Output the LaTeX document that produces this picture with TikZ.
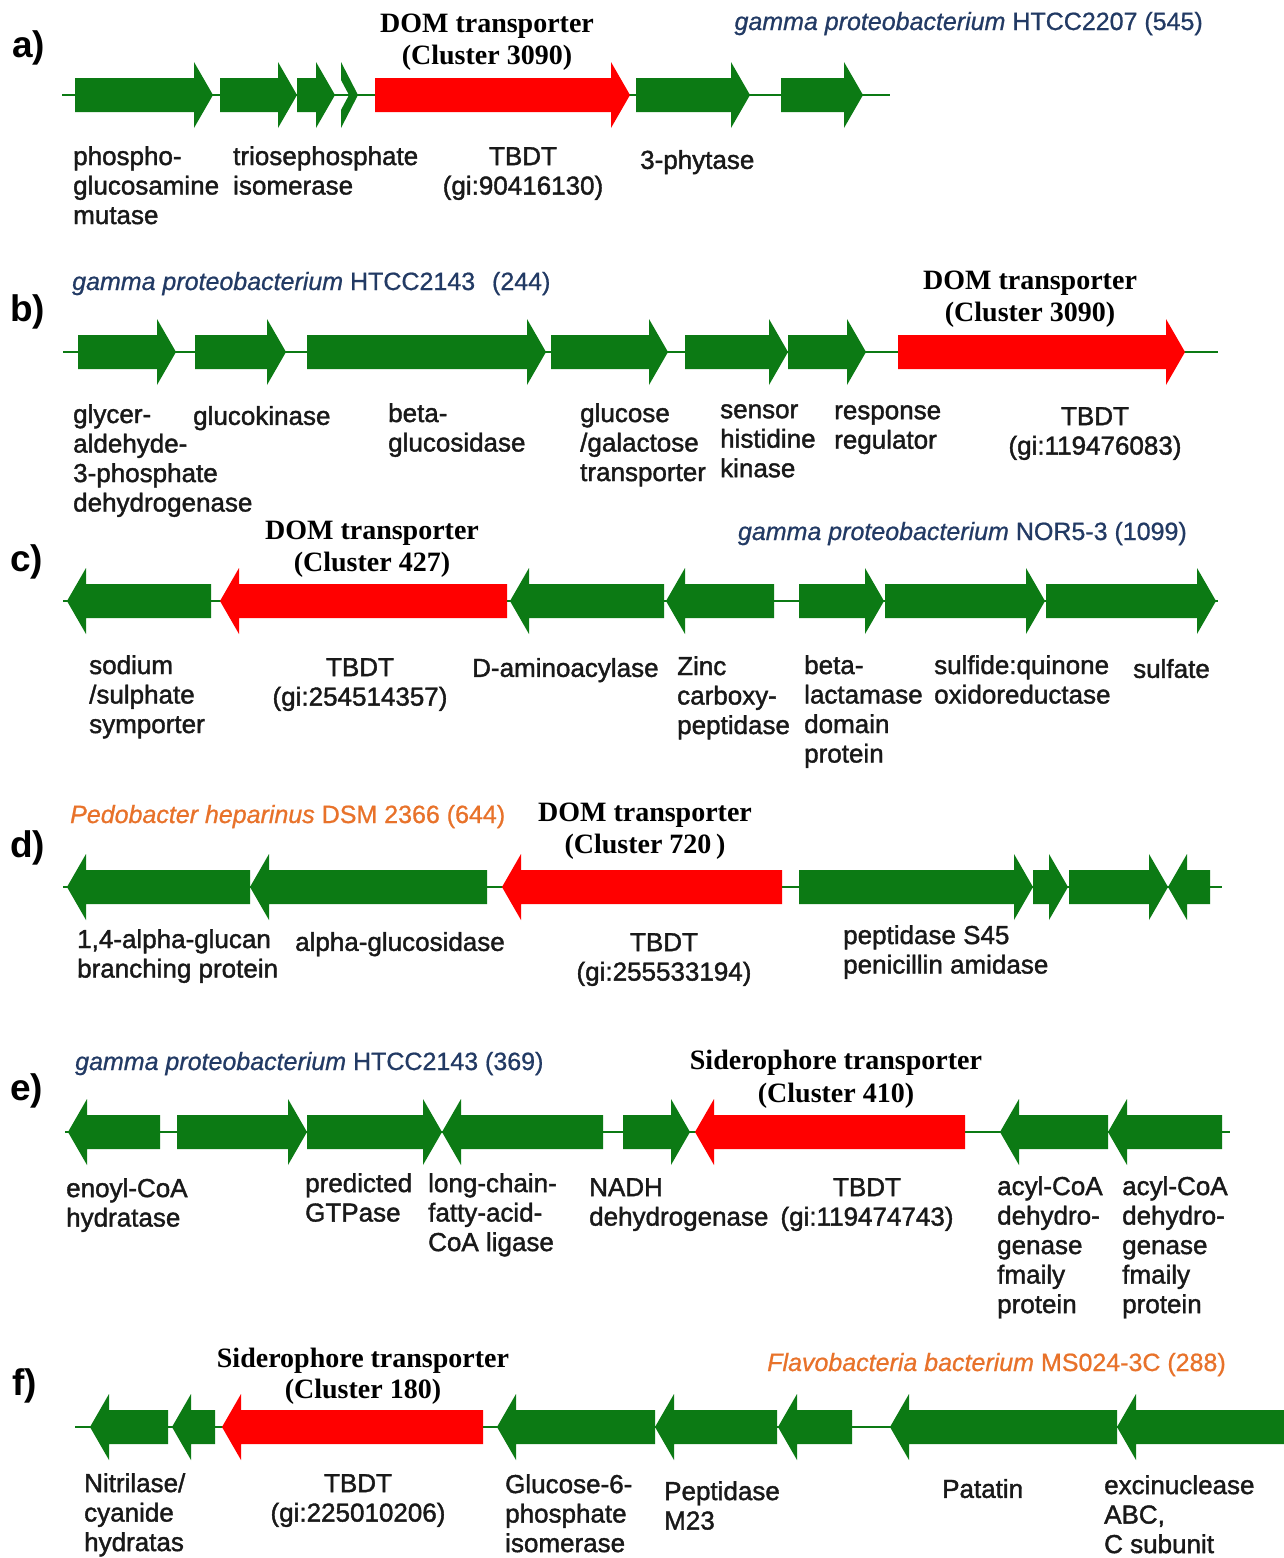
\documentclass[tikz,border=0pt]{standalone}
\usepackage{fontspec}
\setmainfont{Liberation Sans}
\newfontfamily\labf[FakeBold=1.5]{Liberation Sans}
\newfontfamily\spf[FakeBold=0.8]{Liberation Sans}
\newfontfamily\serifb{Liberation Serif}
\definecolor{gg}{RGB}{12,122,20}
\definecolor{rr}{RGB}{255,0,0}
\definecolor{labc}{RGB}{25,25,25}
\definecolor{spblue}{RGB}{34,58,100}
\definecolor{sporange}{RGB}{232,114,42}
\newcommand{\genef}[4]{%
 \fill[#4] ({#1},{#3-17}) -- ({#2-19},{#3-17}) -- ({#2-19},{#3-33}) -- ({#2},{#3}) -- ({#2-19},{#3+33}) -- ({#2-19},{#3+17}) -- ({#1},{#3+17}) -- cycle;}
\newcommand{\gener}[4]{%
 \fill[#4] ({#2},{#3-17}) -- ({#1+19},{#3-17}) -- ({#1+19},{#3-33}) -- ({#1},{#3}) -- ({#1+19},{#3+33}) -- ({#1+19},{#3+17}) -- ({#2},{#3+17}) -- cycle;}
\begin{document}
\begin{tikzpicture}[x=1pt,y=-1pt,
  lbl/.style={font=\labf\fontsize{26}{29.5}\selectfont, text=labc, inner sep=0pt, align=left, anchor=north west, execute at begin node=\strut},
  lblc/.style={lbl, align=center, anchor=north},
  ttl/.style={font=\serifb\bfseries\fontsize{28}{32}\selectfont, text=black, align=center, anchor=north, inner sep=0pt, execute at begin node=\strut},
  spb/.style={font=\spf\fontsize{25}{30}\selectfont, text=spblue, inner sep=0pt},
  spo/.style={font=\spf\fontsize{25}{30}\selectfont, text=sporange, inner sep=0pt},
  rowlab/.style={font=\bfseries\fontsize{37}{40}\selectfont, text=black, inner sep=0pt, anchor=base west},
  axis/.style={draw=gg, line width=2pt}]
\fill[white] (0,0) rectangle (1284,1558);
\useasboundingbox (0,0) rectangle (1284,1558);

% ---------------- a)
\node[rowlab] (la) at (12,57) {a)};
\draw[axis] (62,95) -- (890,95);
\genef{75}{213}{95}{gg}
\genef{220}{297}{95}{gg}
\genef{297}{335}{95}{gg}
\fill[gg] (341,62) -- (358,95) -- (341,128) -- (341,110) -- (349,95) -- (341,80) -- cycle;
\genef{375}{630}{95}{rr}
\genef{636}{750}{95}{gg}
\genef{781}{863}{95}{gg}
\node[ttl] (ta) at (487,14) {DOM transporter\\(Cluster 3090)};
\node[spb, anchor=base east] (sa) at (1203,30) {\textit{gamma proteobacterium} HTCC2207 (545)};
\node[lbl] (a1) at (73,146) {phospho-\\glucosamine\\mutase};
\node[lbl] (a2) at (233,146) {triosephosphate\\isomerase};
\node[lblc] (a3) at (523,147) {TBDT\\(gi:90416130)};
\node[lbl] (a4) at (640,148) {3-phytase};

% ---------------- b)
\node[rowlab] (lb) at (10,321) {b)};
\draw[axis] (63,352) -- (1218,352);
\genef{78}{176}{352}{gg}
\genef{195}{286}{352}{gg}
\genef{307}{546}{352}{gg}
\genef{551}{668}{352}{gg}
\genef{685}{788}{352}{gg}
\genef{788}{866}{352}{gg}
\genef{898}{1185}{352}{rr}
\node[ttl] (tb) at (1030,271) {DOM transporter\\(Cluster 3090)};
\node[spb, anchor=base west] (sb) at (72,290) {\textit{gamma proteobacterium} HTCC2143\hspace{0.4em} (244)};
\node[lbl] (b1) at (73,404) {glycer-\\aldehyde-\\3-phosphate\\dehydrogenase};
\node[lbl] (b2) at (193,404) {glucokinase};
\node[lbl] (b3) at (388,403) {beta-\\glucosidase};
\node[lbl] (b4) at (580,403) {glucose\\/galactose\\transporter};
\node[lbl] (b5) at (720,404) {sensor\\histidine\\kinase};
\node[lbl] (b6) at (834,405) {response\\regulator};
\node[lblc] (b7) at (1095,407) {TBDT\\(gi:119476083)};

% ---------------- c)
\node[rowlab] (lc) at (10,571) {c)};
\draw[axis] (63,601) -- (1218,601);
\gener{67}{211}{601}{gg}
\gener{220}{507}{601}{rr}
\gener{510}{664}{601}{gg}
\gener{666}{774}{601}{gg}
\genef{799}{884}{601}{gg}
\genef{885}{1045}{601}{gg}
\genef{1046}{1216}{601}{gg}
\node[ttl] (tc) at (372,521) {DOM transporter\\(Cluster 427)};
\node[spb, anchor=base east] (sc) at (1187,540) {\textit{gamma proteobacterium} NOR5-3 (1099)};
\node[lbl] (c1) at (89,655) {sodium\\/sulphate\\symporter};
\node[lblc] (c2) at (360,658) {TBDT\\(gi:254514357)};
\node[lbl] (c3) at (472,656) {D-aminoacylase};
\node[lbl] (c4) at (677,656) {Zinc\\carboxy-\\peptidase};
\node[lbl] (c5) at (804,655) {beta-\\lactamase\\domain\\protein};
\node[lbl] (c6) at (934,655) {sulfide:quinone\\oxidoreductase};
\node[lbl] (c7) at (1133,657) {sulfate};

% ---------------- d)
\node[rowlab] (ld) at (10,857) {d)};
\draw[axis] (63,887) -- (1222,887);
\gener{67}{250}{887}{gg}
\gener{250}{487}{887}{gg}
\gener{502}{782}{887}{rr}
\genef{799}{1033}{887}{gg}
\genef{1033}{1068}{887}{gg}
\genef{1069}{1168}{887}{gg}
\gener{1168}{1210}{887}{gg}
\node[ttl] (td) at (645,803) {DOM transporter\\(Cluster 720\,)};
\node[spo, anchor=base west] (sd) at (70,823) {\textit{Pedobacter heparinus} DSM 2366 (644)};
\node[lbl] (d1) at (77,929) {1,4-alpha-glucan\\branching protein};
\node[lbl] (d2) at (295,930) {alpha-glucosidase};
\node[lblc] (d3) at (664,933) {TBDT\\(gi:255533194)};
\node[lbl] (d4) at (843,925) {peptidase S45\\penicillin amidase};

% ---------------- e)
\node[rowlab] (le) at (10,1100) {e)};
\draw[axis] (65,1132) -- (1230,1132);
\gener{68}{160}{1132}{gg}
\genef{177}{307}{1132}{gg}
\genef{307}{442}{1132}{gg}
\gener{442}{603}{1132}{gg}
\genef{623}{690}{1132}{gg}
\gener{695}{965}{1132}{rr}
\gener{1000}{1108}{1132}{gg}
\gener{1108}{1222}{1132}{gg}
\node[ttl, font=\serifb\bfseries\fontsize{28}{33}\selectfont] (te) at (836,1050) {Siderophore transporter\\(Cluster 410)};
\node[spb, anchor=base west] (se) at (75,1070) {\textit{gamma proteobacterium} HTCC2143 (369)};
\node[lbl] (e1) at (66,1178) {enoyl-CoA\\hydratase};
\node[lbl] (e2) at (305,1173) {predicted\\GTPase};
\node[lbl] (e3) at (428,1173) {long-chain-\\fatty-acid-\\CoA ligase};
\node[lbl] (e4) at (589,1178) {NADH\\dehydrogenase};
\node[lblc] (e5) at (867,1178) {TBDT\\(gi:119474743)};
\node[lbl] (e6) at (997,1176) {acyl-CoA\\dehydro-\\genase\\fmaily\\protein};
\node[lbl] (e7) at (1122,1176) {acyl-CoA\\dehydro-\\genase\\fmaily\\protein};

% ---------------- f)
\node[rowlab] (lf) at (12,1395) {f)};
\draw[axis] (75,1427) -- (1284,1427);
\gener{90}{168}{1427}{gg}
\gener{172}{215}{1427}{gg}
\gener{222}{483}{1427}{rr}
\gener{497}{655}{1427}{gg}
\gener{655}{777}{1427}{gg}
\gener{778}{852}{1427}{gg}
\gener{890}{1117}{1427}{gg}
\gener{1117}{1284}{1427}{gg}
\node[ttl, font=\serifb\bfseries\fontsize{28}{31}\selectfont] (tf) at (363,1348) {Siderophore transporter\\(Cluster 180)};
\node[spo, anchor=base east] (sf) at (1226,1371) {\textit{Flavobacteria bacterium} MS024-3C (288)};
\node[lbl] (f1) at (84,1473) {Nitrilase/\\cyanide\\hydratas};
\node[lblc] (f2) at (358,1474) {TBDT\\(gi:225010206)};
\node[lbl] (f3) at (505,1474) {Glucose-6-\\phosphate\\isomerase};
\node[lbl] (f4) at (664,1481) {Peptidase\\M23};
\node[lbl] (f5) at (942,1477) {Patatin};
\node[lbl] (f6) at (1104,1475) {excinuclease\\ABC,\\C subunit};
\end{tikzpicture}
\end{document}
